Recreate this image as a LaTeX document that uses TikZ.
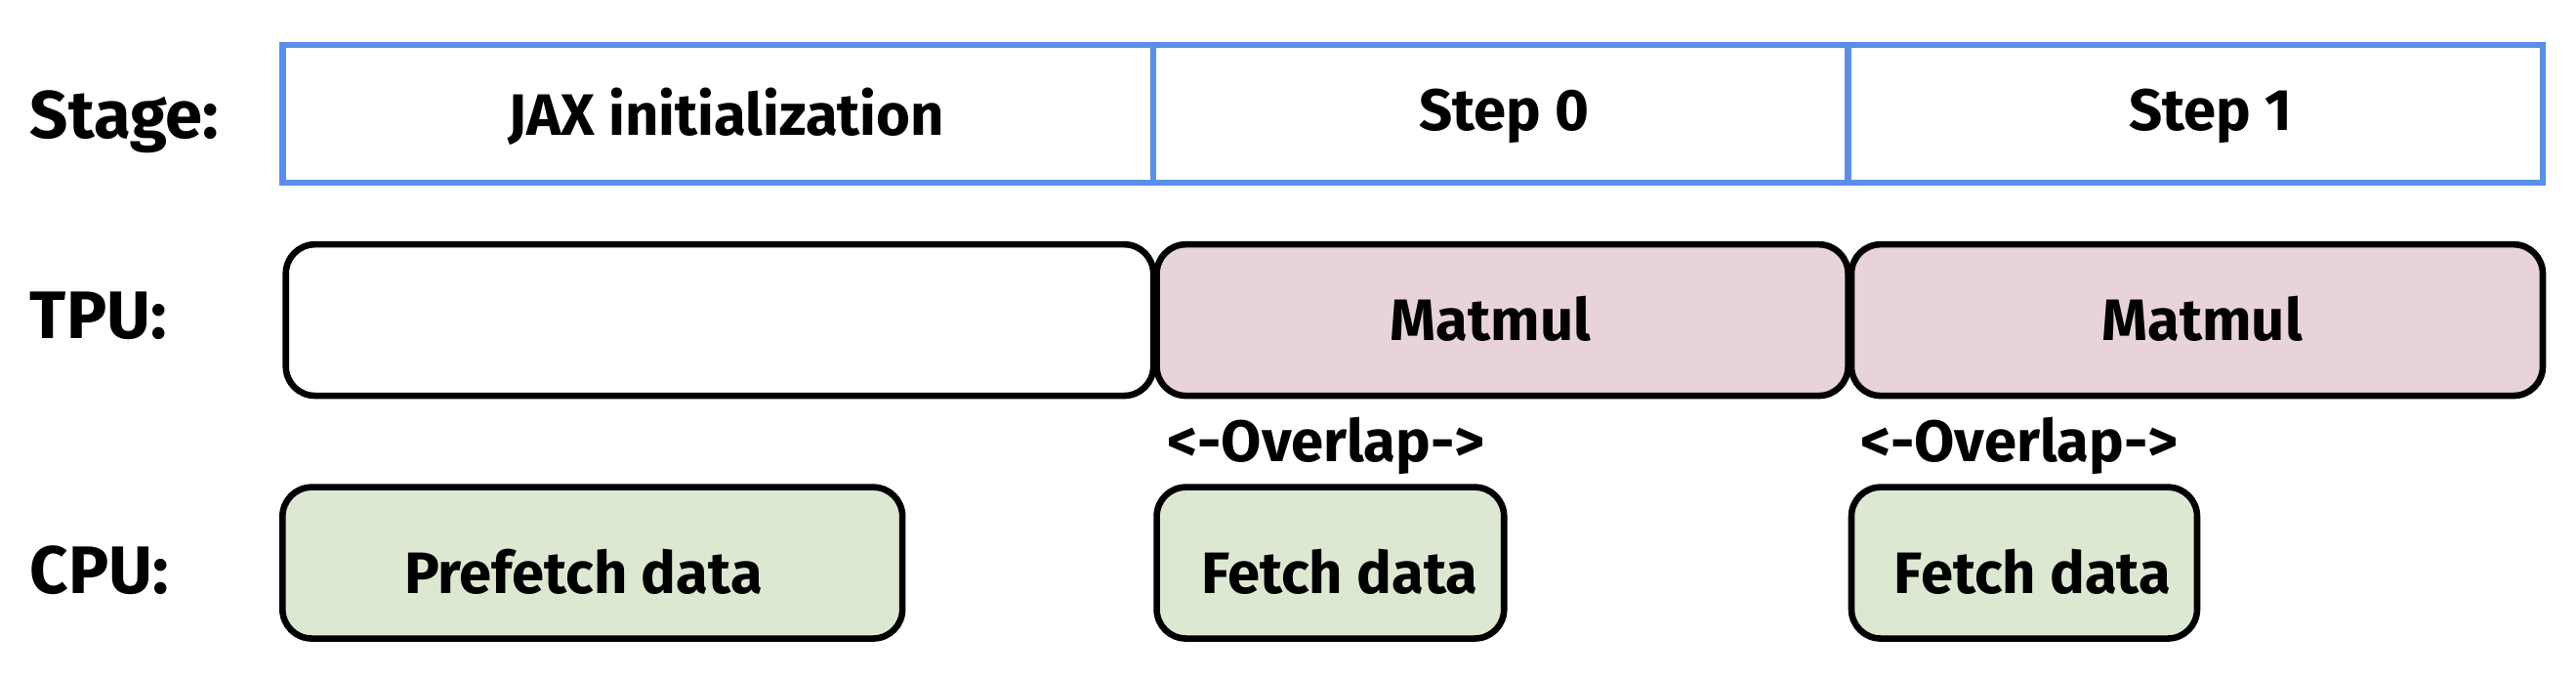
\documentclass[tikz,border=0pt]{standalone}
\usepackage{fontspec}
\setmainfont{Fira Sans}
\begin{document}
\begin{tikzpicture}[x=0.02cm,y=-0.02cm,
  stage/.style={draw=blue!60!cyan!70!black,line width=2.2pt,fill=white},
  blk/.style={draw=black,line width=2.2pt,rounded corners=10pt},
  txt/.style={font=\fontsize{20}{24}\selectfont\bfseries},
  lbl/.style={font=\fontsize{23}{28}\selectfont\bfseries,anchor=west}]
\definecolor{sb}{HTML}{5B8EE6}
\definecolor{pk}{HTML}{E8D3DC}
\definecolor{gr}{HTML}{DDE8D3}
\useasboundingbox (0,0) rectangle (1550,408);
\node[lbl] (ls) at (12,73) {Stage:};
\node[lbl] (lt) at (12,190) {TPU:};
\node[lbl] (lc) at (12,343) {CPU:};
\draw[stage,draw=sb] (170,27) rectangle (694,110);
\draw[stage,draw=sb] (694,27) rectangle (1112,110);
\draw[stage,draw=sb] (1112,27) rectangle (1530,110);
\node[txt] (s1) at (437,70) {JAX initialization};
\node[txt] (s2) at (905,70) {Step 0};
\node[txt] (s3) at (1330,70) {Step 1};
\draw[blk,fill=white] (172,147) rectangle (694,238);
\draw[blk,fill=pk] (696,147) rectangle (1112,238);
\draw[blk,fill=pk] (1114,147) rectangle (1530,238);
\node[txt] (m1) at (897,192) {Matmul};
\node[txt] (m2) at (1325,192) {Matmul};
\node[txt] (o1) at (798,268) {<-Overlap->};
\node[txt] (o2) at (1215,268) {<-Overlap->};
\draw[blk,fill=gr] (170,293) rectangle (543,384);
\draw[blk,fill=gr] (696,293) rectangle (905,384);
\draw[blk,fill=gr] (1114,293) rectangle (1322,384);
\node[txt] (c1) at (351,344) {Prefetch data};
\node[txt] (c2) at (806,344) {Fetch data};
\node[txt] (c3) at (1223,344) {Fetch data};
\end{tikzpicture}
\end{document}
